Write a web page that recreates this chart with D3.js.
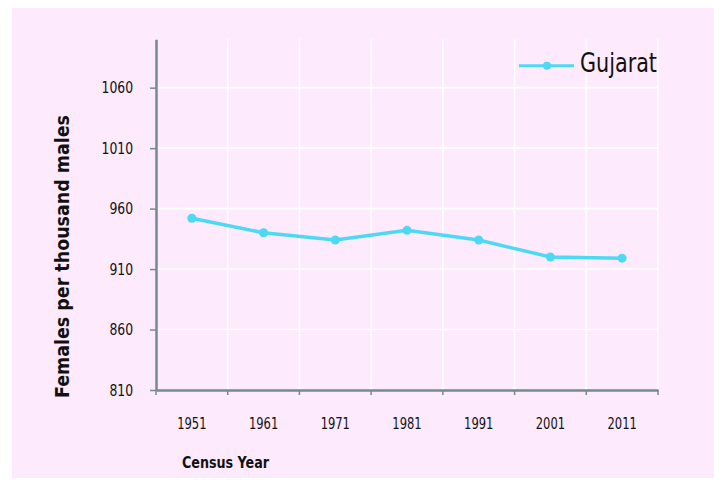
<!DOCTYPE html>
<html>
<head>
<meta charset="utf-8">
<script src="https://cdn.jsdelivr.net/npm/d3@7"></script>
<style>
  body { margin: 0; background: #fff; }
  text { font-family: "DejaVu Sans Condensed", "Liberation Sans", sans-serif; fill: #111; }
</style>
</head>
<body>
<div id="chart"></div>
<script>
const years = ["1951", "1961", "1971", "1981", "1991", "2001", "2011"];
const gujarat = [952, 940, 934, 942, 934, 920, 919];
const yTicks = [810, 860, 910, 960, 1010, 1060];
const seriesName = "Gujarat";

const showChart = ()=>{

  const width = 714;
  const height = 497;
  const left = 156, right = 658, top = 39.3, bottom = 390;
  const axisColor = "#768a8d";
  const lineColor = "#4dd8f4";
  const font = '"DejaVu Sans Condensed", "Liberation Sans", sans-serif';

  // squeeze a label horizontally so it looks like the narrow original font
  const narrow = (sel, k)=>{
    sel.each(function(){
      let w = this.getComputedTextLength();
      d3.select(this).attr("textLength", w * k).attr("lengthAdjust", "spacingAndGlyphs");
    })
  }

  let svg = d3.select("#chart")
              .append("svg")
                .attr("width", width)
                .attr("height", height);

  // pink panel
  svg.append("rect")
      .attr("x", 12).attr("y", 8)
      .attr("width", width - 12).attr("height", 470)
      .attr("fill", "#fdeafd");

  let x = d3.scaleBand().domain(years).range([left, right]);
  let y = d3.scaleLinear().domain([810, 1100]).range([bottom, top]);

  // grid
  let grid = svg.append("g").attr("stroke", "#fff").attr("stroke-width", 1.6);
  grid.selectAll(".hg")
      .data(yTicks.slice(1))
      .join("line")
        .attr("x1", left).attr("x2", right)
        .attr("y1", d => y(d)).attr("y2", d => y(d));
  grid.selectAll(".vg")
      .data(years)
      .join("line")
        .attr("x1", d => x(d) + x.bandwidth()).attr("x2", d => x(d) + x.bandwidth())
        .attr("y1", top).attr("y2", bottom);

  // y axis
  let yAxis = svg.append("g")
      .attr("transform", `translate(${left},0)`)
      .call(d3.axisLeft(y).tickValues(yTicks).tickFormat(d3.format("d"))
              .tickSize(6).tickPadding(17).tickSizeOuter(0));
  yAxis.select(".domain").attr("stroke", axisColor).attr("stroke-width", 2.5);
  yAxis.selectAll(".tick line").attr("stroke", axisColor).attr("stroke-width", 1.5);
  yAxis.selectAll(".tick text").style("font-size", "16px").style("font-family", font).attr("fill", "#111")
      .call(narrow, 0.86);

  // x axis: labels centred, ticks on band edges
  let xAxis = svg.append("g")
      .attr("transform", `translate(0,${bottom})`)
      .call(d3.axisBottom(x).tickSize(0).tickPadding(28).tickSizeOuter(0));
  xAxis.select(".domain").attr("stroke", axisColor).attr("stroke-width", 2.5);
  xAxis.selectAll(".tick text").style("font-size", "16px").style("font-family", font).attr("fill", "#111")
      .call(narrow, 0.8);
  xAxis.selectAll(".edge")
      .data([years[0]].concat(years))
      .join("line")
        .attr("x1", (d, i) => i === 0 ? x(d) : x(d) + x.bandwidth())
        .attr("x2", (d, i) => i === 0 ? x(d) : x(d) + x.bandwidth())
        .attr("y1", 0).attr("y2", 5)
        .attr("stroke", axisColor).attr("stroke-width", 1.5);

  // titles
  svg.append("text")
      .attr("x", 182).attr("y", 468)
      .style("font-size", "16px").style("font-weight", "bold")
      .attr("textLength", 87).attr("lengthAdjust", "spacingAndGlyphs")
      .text("Census Year");

  svg.append("text")
      .attr("transform", "translate(69,256.5) rotate(-90)")
      .attr("text-anchor", "middle")
      .style("font-size", "20px").style("font-weight", "bold")
      .attr("textLength", 283).attr("lengthAdjust", "spacingAndGlyphs")
      .text("Females per thousand males");

  // series
  let line = d3.line()
      .x((d, i) => x(years[i]) + x.bandwidth() / 2)
      .y(d => y(d));

  svg.append("path")
      .datum(gujarat)
      .attr("fill", "none")
      .attr("stroke", lineColor)
      .attr("stroke-width", 3.5)
      .attr("d", line);

  svg.selectAll(".pt")
      .data(gujarat)
      .join("circle")
        .attr("cx", (d, i) => x(years[i]) + x.bandwidth() / 2)
        .attr("cy", d => y(d))
        .attr("r", 4.5)
        .attr("fill", lineColor);

  // legend
  let legend = svg.append("g").attr("transform", "translate(519,65.7)");
  legend.append("line")
      .attr("x1", 0).attr("x2", 55)
      .attr("stroke", lineColor).attr("stroke-width", 3);
  legend.append("circle").attr("cx", 28).attr("r", 4).attr("fill", lineColor);
  legend.append("text")
      .attr("x", 61).attr("y", 6)
      .style("font-size", "27px")
      .attr("textLength", 77).attr("lengthAdjust", "spacingAndGlyphs")
      .text(seriesName);
}

showChart()
</script>
</body>
</html>
